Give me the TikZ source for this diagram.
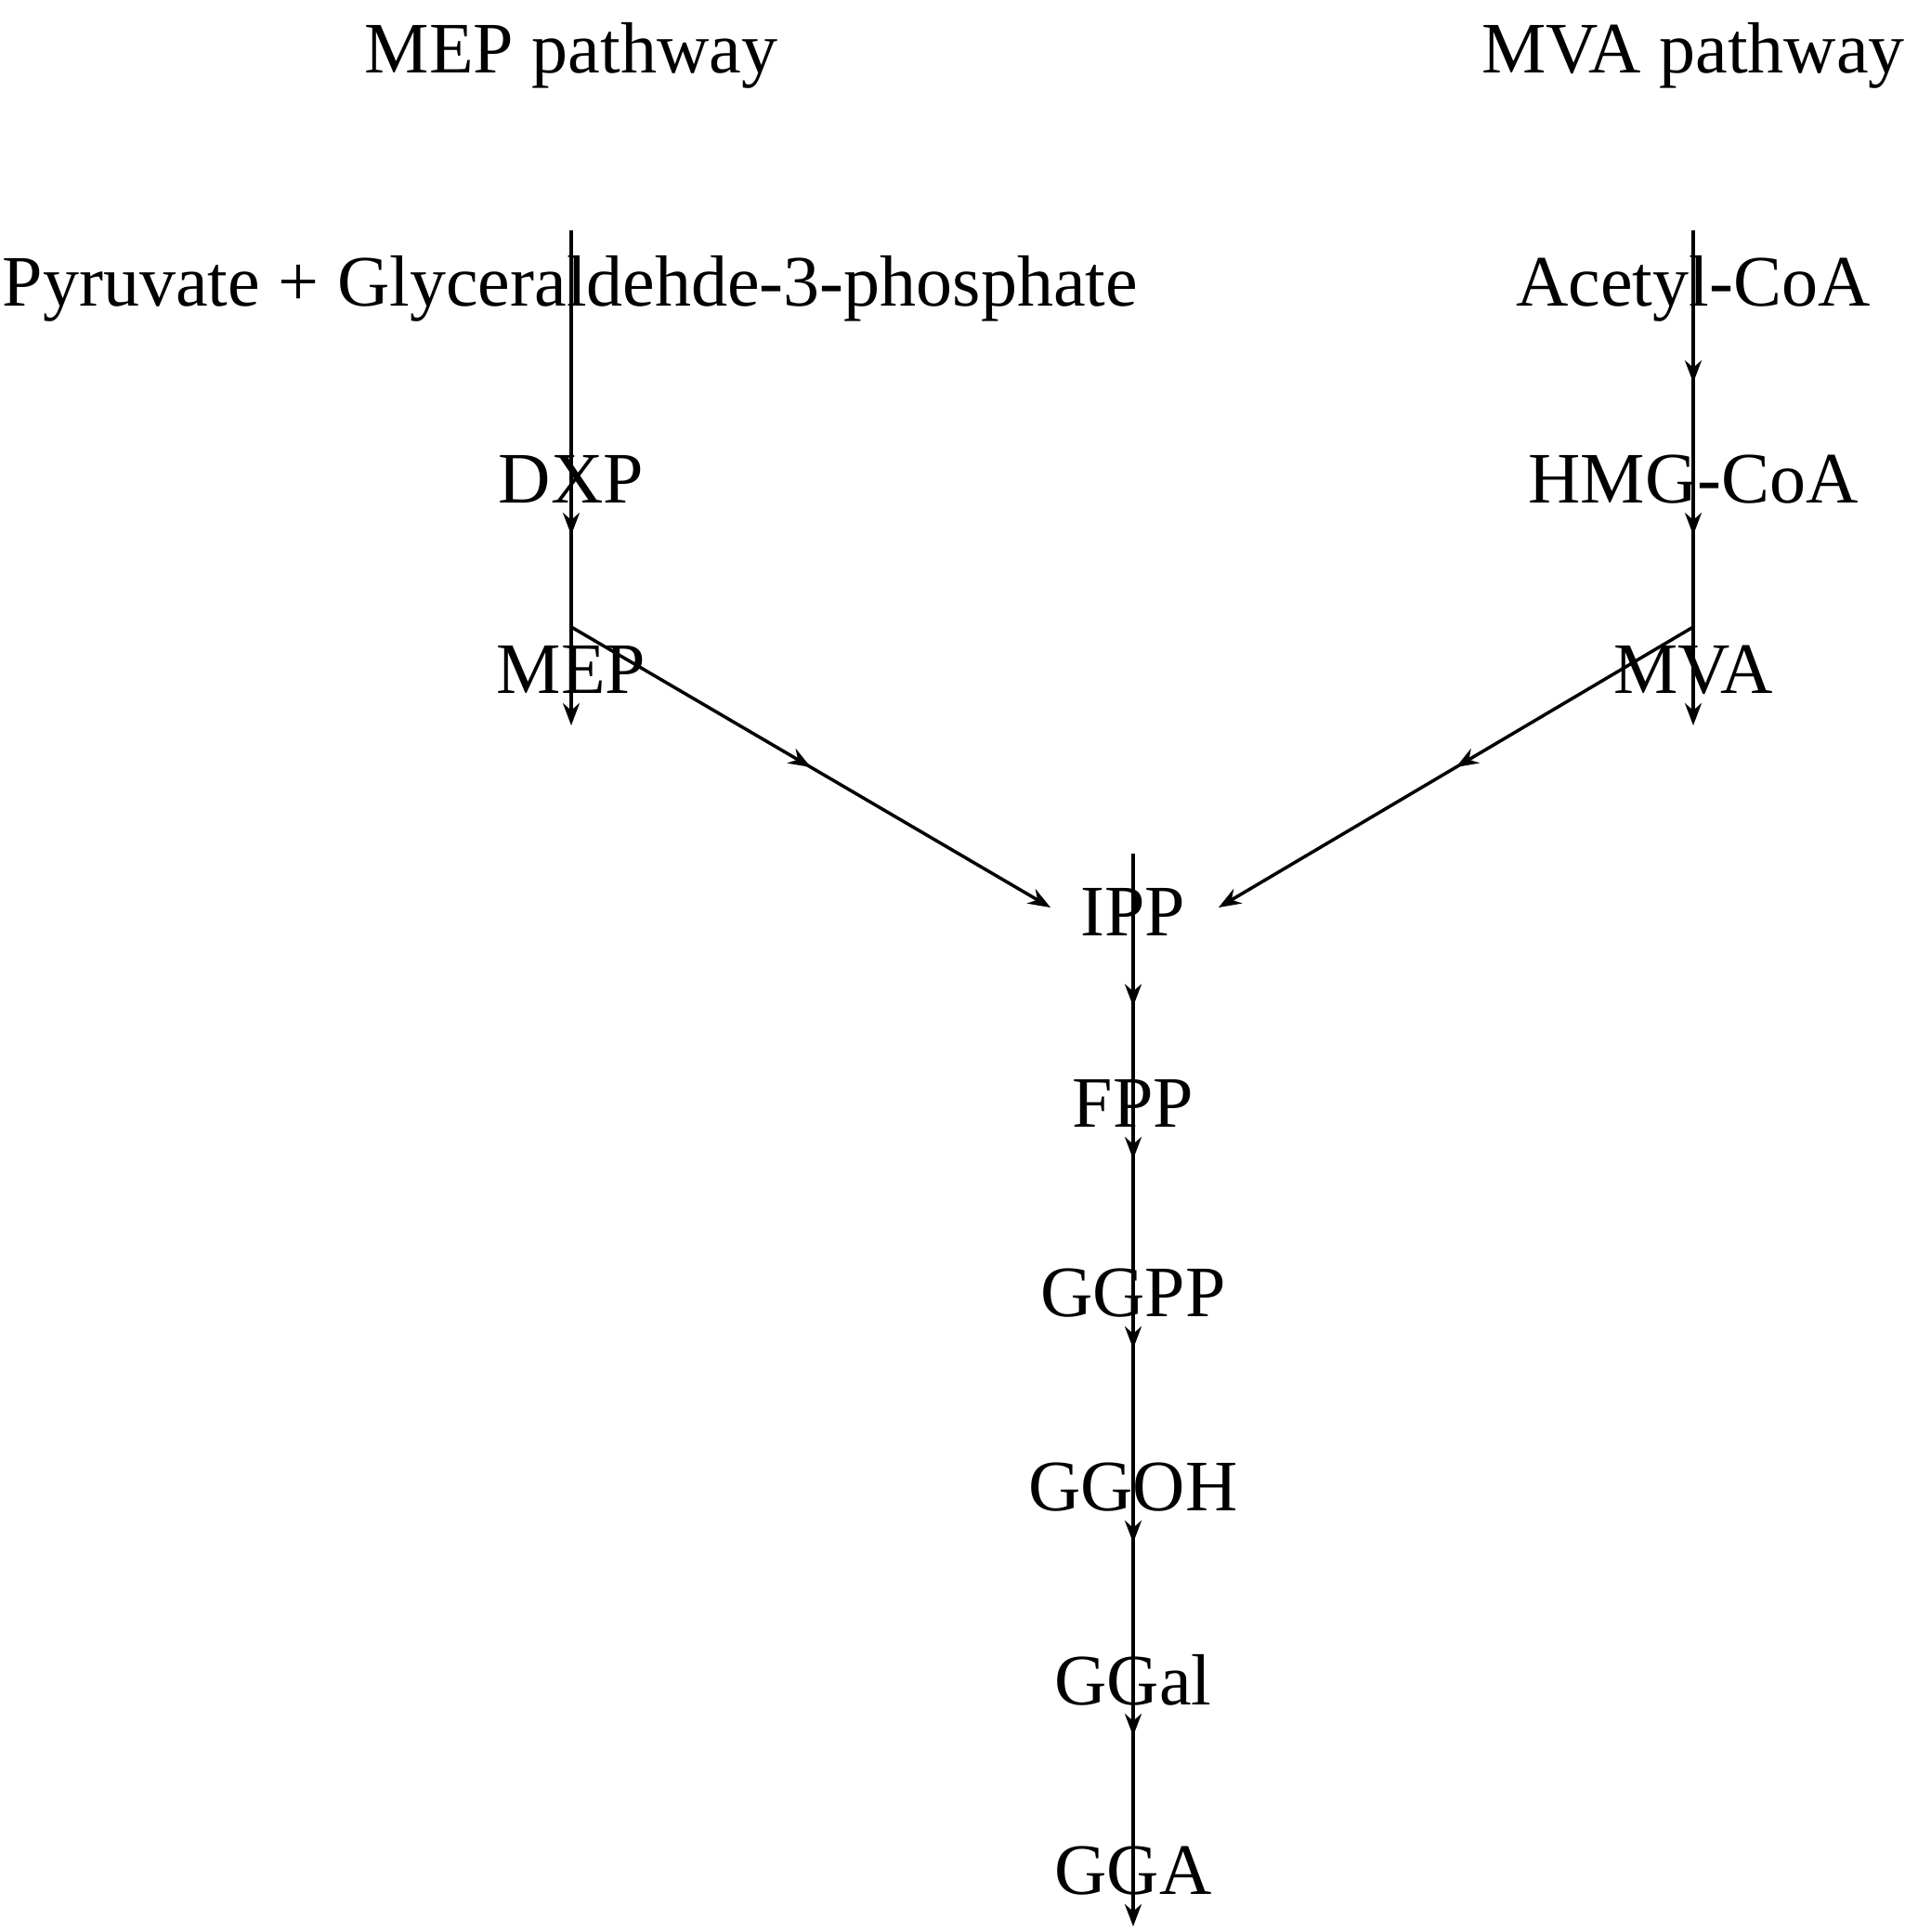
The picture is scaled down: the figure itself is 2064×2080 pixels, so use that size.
\documentclass[tikz,border=0pt]{standalone}
\usepackage{fontspec}
\setmainfont{Liberation Serif}
\usetikzlibrary{arrows.meta,decorations.markings}
\begin{document}
\begin{tikzpicture}[x=1pt,y=-1pt,
  lbl/.style={inner sep=0pt,font=\fontsize{78}{90}\selectfont},
  arr/.style={line width=3.5pt,-{Stealth[length=24pt,width=18pt]}},
  midarr/.style={arr,postaction={decorate},decoration={markings,mark=at position 0.5 with {\arrow{Stealth[length=24pt,width=18pt]}}}}]
\useasboundingbox (0,0) rectangle (2064,2080);
\node[lbl] (t1) at (615,60) {MEP pathway};
\node[lbl] (t2) at (1823,60) {MVA pathway};
\node[lbl] (pyr) at (614,311) {Pyruvate + Glyceraldehde-3-phosphate};
\node[lbl] (ac) at (1823,311) {Acetyl-CoA};
\node[lbl] (dxp) at (615,516) {DXP};
\node[lbl] (hmg) at (1823,516) {HMG-CoA};
\node[lbl] (mep) at (615,721) {MEP};
\node[lbl] (mva) at (1823,721) {MVA};
\node[lbl] (ipp) at (1220,982) {IPP};
\node[lbl] (fpp) at (1220,1188) {FPP};
\node[lbl] (ggpp) at (1220,1392) {GGPP};
\node[lbl] (ggoh) at (1220,1601) {GGOH};
\node[lbl] (ggal) at (1220,1809) {GGal};
\node[lbl] (gga) at (1220,2014) {GGA};
\draw[arr] ([yshift=63]pyr.center -| dxp) -- ([yshift=-60]dxp.center);
\draw[midarr] ([yshift=63]ac.center) -- ([yshift=-60]hmg.center);
\draw[arr] ([yshift=63]dxp.center) -- ([yshift=-60]mep.center);
\draw[arr] ([yshift=63]hmg.center) -- ([yshift=-60]mva.center);
\coordinate (ipl) at (1131,977);
\coordinate (ipr) at (1312,977);
\draw[midarr] ([yshift=46]mep.center) -- (ipl);
\draw[midarr] ([yshift=46]mva.center) -- (ipr);
\draw[midarr] ([yshift=63]ipp.center) -- ([yshift=-60]fpp.center);
\draw[arr] ([yshift=63]fpp.center) -- ([yshift=-60]ggpp.center);
\draw[arr] ([yshift=63]ggpp.center) -- ([yshift=-60]ggoh.center);
\draw[arr] ([yshift=63]ggoh.center) -- ([yshift=-60]ggal.center);
\draw[arr] ([yshift=63]ggal.center) -- ([yshift=-60]gga.center);
\end{tikzpicture}
\end{document}
